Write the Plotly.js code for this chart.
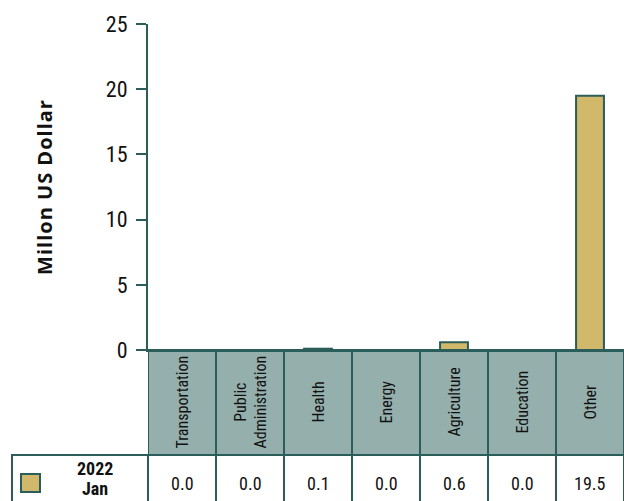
<!DOCTYPE html>
<html>
<head>
<meta charset="utf-8">
<script src="https://cdn.plot.ly/plotly-3.0.0.min.js"></script>
<style>
html,body{margin:0;padding:0;background:#fff;}
#chart{width:624px;height:501px;}
.ytick text, .annotation-text { font-stretch: 75% !important; }
.ytitle { letter-spacing: 1px; }
</style>
</head>
<body>
<div id="chart"></div>
<script>
var categories = ["Transportation", "Public<br>Administration", "Health", "Energy", "Agriculture", "Education", "Other"];
var seriesNameLines = ["2022", "Jan"];
var values = [0.0, 0.0, 0.1, 0.0, 0.6, 0.0, 19.5];
var yTicks = [0, 5, 10, 15, 20, 25];

var dark = "#2b5e5a";
var barFill = "#d2b86b";
var headFill = "#95b0ac";
var narrow = "Roboto, 'Liberation Sans', sans-serif";

var W = 624, H = 501, mL = 148, mT = 24, mB = 151;
var plotH = H - mT - mB, plotW = W - mL;
function py(px) { return (mT + plotH - px) / plotH; } // pixel y -> paper y
function pxX(px) { return (px - mL) / plotW; }

var headBottom = py(455), rowBottom = py(505);
var shapes = [], annotations = [];
var idx = categories.map(function(c, i){ return i; });

idx.forEach(function(i){
  shapes.push({type:'rect', xref:'x', yref:'paper', x0:i-0.5, x1:i+0.5, y0:headBottom, y1:0,
    fillcolor:headFill, line:{color:dark, width:2}, layer:'below'});
  shapes.push({type:'rect', xref:'x', yref:'paper', x0:i-0.5, x1:i+0.5, y0:rowBottom, y1:headBottom,
    fillcolor:'#ffffff', line:{color:dark, width:2}, layer:'below'});
  annotations.push({xref:'x', yref:'paper', x:i, y:(headBottom)/2, text:categories[i], showarrow:false,
    textangle:-90, xanchor:'center', yanchor:'middle', font:{family:narrow, size:16, color:'#111'}});
  annotations.push({xref:'x', yref:'paper', x:i, y:py(483), text:values[i].toFixed(1), showarrow:false,
    xanchor:'center', yanchor:'middle', font:{family:narrow, size:18, color:'#111'}});
});
shapes.push({type:'rect', xref:'paper', yref:'paper', x0:pxX(12), x1:0, y0:rowBottom, y1:headBottom,
  fillcolor:'#ffffff', line:{color:dark, width:2}, layer:'below'});
shapes.push({type:'rect', xref:'paper', yref:'paper', x0:pxX(21), x1:pxX(40), y0:py(492), y1:py(474),
  fillcolor:barFill, line:{color:dark, width:2}});
var seriesLineY = [469, 488];
seriesNameLines.forEach(function(t, k){
  annotations.push({xref:'paper', yref:'paper', x:pxX(95), y:py(seriesLineY[k]), text:'<b>'+t+'</b>', showarrow:false,
    xanchor:'center', yanchor:'middle', font:{family:narrow, size:18, color:'#111'}});
});

var trace = {
  type:'bar', x:idx, y:values, width:0.41,
  marker:{color:barFill, line:{color:dark, width:2}},
  hoverinfo:'none', showlegend:false
};

var layout = {
  width:W, height:H, margin:{l:mL, r:0, t:mT, b:mB, pad:0},
  paper_bgcolor:'#fff', plot_bgcolor:'#fff', showlegend:false,
  xaxis:{range:[-0.5, 6.5], showticklabels:false, ticks:'', showgrid:false, zeroline:false,
    showline:true, linecolor:dark, linewidth:2, fixedrange:true},
  yaxis:{range:[0, 25], tickvals:yTicks, ticktext:yTicks.map(String), ticks:'outside', ticklen:10,
    tickwidth:2, tickcolor:dark, showline:true, linecolor:dark, linewidth:2, showgrid:false, zeroline:false,
    ticklabelstandoff:4, tickfont:{family:narrow, size:22, color:'#111'},
    title:{text:'<b>Millon US Dollar</b>', standoff:48, font:{family:"'Open Sans', sans-serif", size:20, color:'#111'}},
    automargin:false, fixedrange:true},
  shapes:shapes, annotations:annotations
};

Plotly.newPlot('chart', [trace], layout, {displayModeBar:false, staticPlot:true});
</script>
</body>
</html>
